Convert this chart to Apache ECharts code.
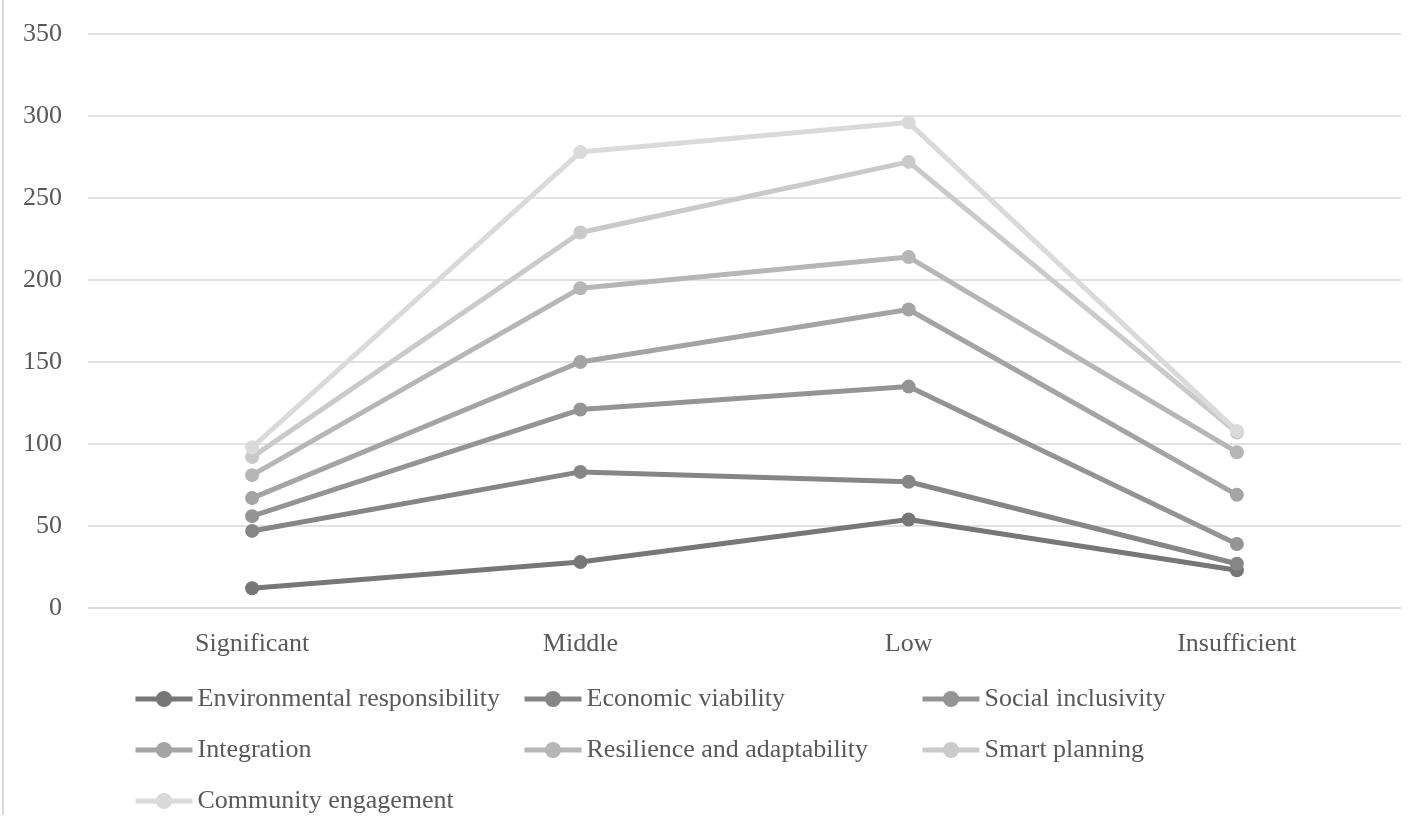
<!DOCTYPE html>
<html>
<head>
<meta charset="utf-8">
<script src="https://cdn.jsdelivr.net/npm/echarts@6/dist/echarts.min.js"></script>
<style>html,body{margin:0;padding:0;background:#fff}#c{width:1419px;height:827px}</style>
</head>
<body>
<div id="c"></div>
<script>
const categories = ['Significant', 'Middle', 'Low', 'Insufficient'];
const seriesNames = ['Environmental responsibility', 'Economic viability', 'Social inclusivity', 'Integration', 'Resilience and adaptability', 'Smart planning', 'Community engagement'];
const envResponsibility = [12, 28, 54, 23];
const economicViability = [47, 83, 77, 27];
const socialInclusivity = [56, 121, 135, 39];
const integration = [67, 150, 182, 69];
const resilience = [81, 195, 214, 95];
const smartPlanning = [92, 229, 272, 107];
const communityEngagement = [98, 278, 296, 108];
const yTicks = [0, 50, 100, 150, 200, 250, 300, 350];

const allData = [envResponsibility, economicViability, socialInclusivity, integration, resilience, smartPlanning, communityEngagement];
const colors = ['#777777', '#868686', '#949494', '#a4a4a4', '#b6b6b6', '#cacaca', '#dadada'];
const font = '"Liberation Serif", "Times New Roman", serif';
const textColor = '#595959';

const chart = echarts.init(document.getElementById('c'));
const series = seriesNames.map((n, i) => ({
  name: n,
  type: 'line',
  data: allData[i],
  symbol: 'circle',
  symbolSize: 14,
  lineStyle: { width: 5, color: colors[i] },
  itemStyle: { color: colors[i] },
  emphasis: { disabled: true },
  animation: false
}));

function legendCol(names, left) {
  return {
    orient: 'vertical',
    left: left,
    top: 686,
    padding: 0,
    itemWidth: 57,
    itemHeight: 20,
    itemGap: 25,
    lineStyle: { width: 5 },
    textStyle: { fontFamily: font, fontSize: 26, lineHeight: 26, color: textColor, padding: [0, 0, 0, 0] },
    data: names
  };
}

chart.setOption({
  backgroundColor: '#ffffff',
  animation: false,
  grid: { left: 88, right: 18, top: 34, bottom: 219, containLabel: false },
  xAxis: {
    type: 'category',
    data: categories,
    boundaryGap: true,
    axisLine: { show: true, lineStyle: { color: '#d9d9d9', width: 1.5 } },
    axisTick: { show: false },
    axisLabel: { fontFamily: font, fontSize: 26, color: textColor, margin: 23 }
  },
  yAxis: {
    type: 'value',
    min: yTicks[0],
    max: yTicks[yTicks.length - 1],
    interval: 50,
    axisLine: { show: false },
    axisTick: { show: false },
    splitLine: { lineStyle: { color: '#d9d9d9', width: 1.5 } },
    axisLabel: { fontFamily: font, fontSize: 26, color: textColor, margin: 26 }
  },
  legend: [
    legendCol([seriesNames[0], seriesNames[3], seriesNames[6]], 133),
    legendCol([seriesNames[1], seriesNames[4]], 522),
    legendCol([seriesNames[2], seriesNames[5]], 920)
  ],
  graphic: [{
    type: 'line',
    shape: { x1: 3, y1: 0, x2: 3, y2: 815 },
    style: { stroke: '#d9d9d9', lineWidth: 2 },
    silent: true
  }],
  series: series
});
</script>
</body>
</html>
